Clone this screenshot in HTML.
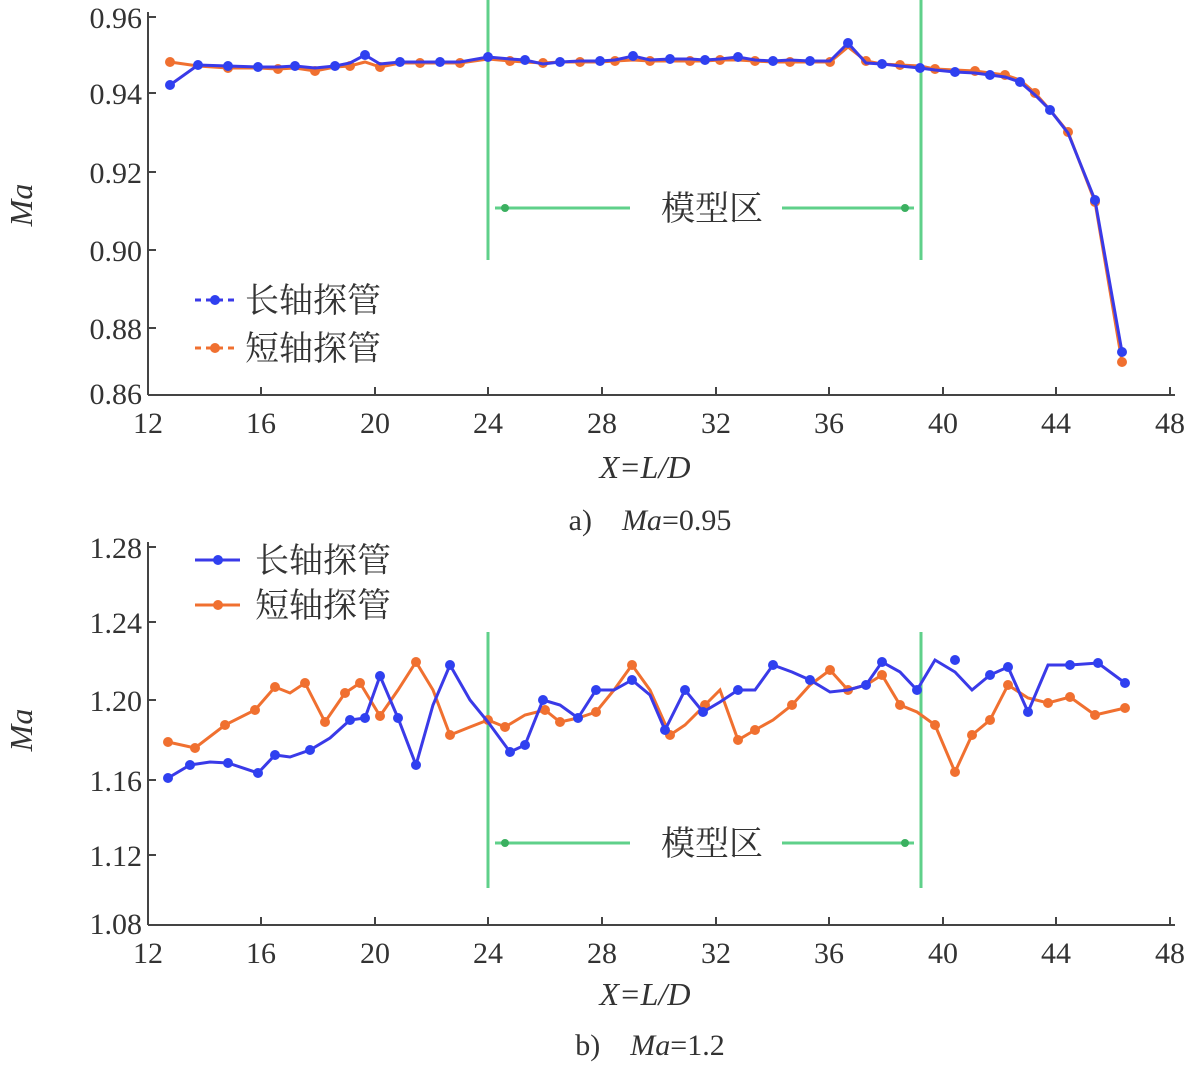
<!DOCTYPE html>
<html><head><meta charset="utf-8"><style>
html,body{margin:0;padding:0;background:#fff;}
svg{display:block;}
text{font-family:"Liberation Serif","Noto Serif CJK SC",serif;fill:#333;}
</style></head><body>
<svg width="1200" height="1071" viewBox="0 0 1200 1071" xmlns="http://www.w3.org/2000/svg">
<!-- Chart a -->
<g stroke="#444" stroke-width="2" fill="none">
<line x1="148" y1="12" x2="148" y2="395"/>
<line x1="148" y1="395" x2="1175" y2="395"/>
</g>
<g stroke="#444" stroke-width="2">
<line x1="148" y1="17" x2="156" y2="17"/><line x1="148" y1="93" x2="156" y2="93"/><line x1="148" y1="172" x2="156" y2="172"/><line x1="148" y1="250" x2="156" y2="250"/><line x1="148" y1="328" x2="156" y2="328"/>
<line x1="261" y1="395" x2="261" y2="387"/><line x1="375" y1="395" x2="375" y2="387"/><line x1="488" y1="395" x2="488" y2="387"/><line x1="602" y1="395" x2="602" y2="387"/><line x1="716" y1="395" x2="716" y2="387"/><line x1="829" y1="395" x2="829" y2="387"/><line x1="943" y1="395" x2="943" y2="387"/><line x1="1056" y1="395" x2="1056" y2="387"/><line x1="1170" y1="395" x2="1170" y2="387"/>
</g>
<g font-size="30" text-anchor="end">
<text x="142" y="28">0.96</text><text x="142" y="104">0.94</text><text x="142" y="183">0.92</text><text x="142" y="261">0.90</text><text x="142" y="339">0.88</text><text x="142" y="404">0.86</text>
</g>
<g font-size="30" text-anchor="middle">
<text x="148" y="433">12</text><text x="261" y="433">16</text><text x="375" y="433">20</text><text x="488" y="433">24</text><text x="602" y="433">28</text><text x="716" y="433">32</text><text x="829" y="433">36</text><text x="943" y="433">40</text><text x="1056" y="433">44</text><text x="1170" y="433">48</text>
</g>
<text x="645" y="478" font-size="32" font-style="italic" text-anchor="middle">X=L/D</text>
<text x="650" y="530" font-size="30" text-anchor="middle">a)&#160;&#160;&#160;&#160;<tspan font-style="italic">Ma</tspan>=0.95</text>
<text transform="translate(32,205) rotate(-90)" font-size="32" font-style="italic" text-anchor="middle">Ma</text>
<g stroke="#5fd08a" stroke-width="3">
<line x1="488" y1="0" x2="488" y2="260"/><line x1="921" y1="0" x2="921" y2="260"/>
<line x1="495" y1="208" x2="630" y2="208"/><line x1="782" y1="208" x2="914" y2="208"/>
</g>
<circle cx="505" cy="208" r="4" fill="#3bb060"/><circle cx="905" cy="208" r="4" fill="#3bb060"/>
<text x="712" y="220" font-size="34" text-anchor="middle">模型区</text>
<polyline fill="none" stroke="#f07030" stroke-width="3" points="170,62 198,66 228,68 258,68 278,69 295,68 315,71 335,67 350,66 365,62 380,67 400,63 420,63 440,63 460,63 488,59 510,61 525,62 543,63 560,62 580,62 600,62 615,61 633,60 650,61 670,61 690,61 705,61 720,60 738,60 755,61 773,62 790,62 810,62 830,62 848,47 866,61 882,64 900,65 920,66 935,69 955,70 975,71 990,73 1005,75 1020,80 1035,93 1050,110 1068,132 1095,202 1122,362"/>
<g fill="#f07030">
<circle cx="170" cy="62" r="5"/><circle cx="228" cy="68" r="5"/><circle cx="278" cy="69" r="5"/><circle cx="315" cy="71" r="5"/><circle cx="350" cy="66" r="5"/><circle cx="380" cy="67" r="5"/><circle cx="420" cy="63" r="5"/><circle cx="460" cy="63" r="5"/><circle cx="510" cy="61" r="5"/><circle cx="543" cy="63" r="5"/><circle cx="580" cy="62" r="5"/><circle cx="615" cy="61" r="5"/><circle cx="650" cy="61" r="5"/><circle cx="690" cy="61" r="5"/><circle cx="720" cy="60" r="5"/><circle cx="755" cy="61" r="5"/><circle cx="790" cy="62" r="5"/><circle cx="830" cy="62" r="5"/><circle cx="866" cy="61" r="5"/><circle cx="900" cy="65" r="5"/><circle cx="935" cy="69" r="5"/><circle cx="975" cy="71" r="5"/><circle cx="1005" cy="75" r="5"/><circle cx="1035" cy="93" r="5"/><circle cx="1068" cy="132" r="5"/><circle cx="1095" cy="202" r="5"/><circle cx="1122" cy="362" r="5"/>
</g>
<polyline fill="none" stroke="#3a3ae8" stroke-width="3" points="170,85 198,65 228,66 258,67 278,67 295,66 315,68 335,66 350,63 365,55 380,64 400,62 420,62 440,62 460,62 488,57 510,59 525,60 543,64 560,62 580,61 600,61 615,60 633,56 650,60 670,59 690,59 705,60 720,59 738,57 755,60 773,61 790,60 810,61 830,61 848,43 866,63 882,64 900,66 920,68 935,70 955,72 975,73 990,75 1005,77 1020,82 1035,95 1050,110 1068,133 1095,200 1122,352"/>
<g fill="#2f40f0">
<circle cx="170" cy="85" r="5"/><circle cx="198" cy="65" r="5"/><circle cx="228" cy="66" r="5"/><circle cx="258" cy="67" r="5"/><circle cx="295" cy="66" r="5"/><circle cx="335" cy="66" r="5"/><circle cx="365" cy="55" r="5"/><circle cx="400" cy="62" r="5"/><circle cx="440" cy="62" r="5"/><circle cx="488" cy="57" r="5"/><circle cx="525" cy="60" r="5"/><circle cx="560" cy="62" r="5"/><circle cx="600" cy="61" r="5"/><circle cx="633" cy="56" r="5"/><circle cx="670" cy="59" r="5"/><circle cx="705" cy="60" r="5"/><circle cx="738" cy="57" r="5"/><circle cx="773" cy="61" r="5"/><circle cx="810" cy="61" r="5"/><circle cx="848" cy="43" r="5"/><circle cx="882" cy="64" r="5"/><circle cx="920" cy="68" r="5"/><circle cx="955" cy="72" r="5"/><circle cx="990" cy="75" r="5"/><circle cx="1020" cy="82" r="5"/><circle cx="1050" cy="110" r="5"/><circle cx="1095" cy="200" r="5"/><circle cx="1122" cy="352" r="5"/>
</g>
<g stroke-width="3" stroke-dasharray="6,5">
<line x1="195" y1="300" x2="235" y2="300" stroke="#3a3ae8"/><line x1="195" y1="348" x2="235" y2="348" stroke="#f07030"/>
</g>
<circle cx="215" cy="300" r="5" fill="#2f40f0"/><circle cx="215" cy="348" r="5" fill="#f07030"/>
<text x="245" y="312" font-size="34">长轴探管</text>
<text x="245" y="360" font-size="34">短轴探管</text>

<!-- Chart b -->
<g stroke="#444" stroke-width="2" fill="none">
<line x1="148" y1="542" x2="148" y2="925"/>
<line x1="148" y1="925" x2="1175" y2="925"/>
</g>
<g stroke="#444" stroke-width="2">
<line x1="148" y1="547" x2="156" y2="547"/><line x1="148" y1="622" x2="156" y2="622"/><line x1="148" y1="700" x2="156" y2="700"/><line x1="148" y1="780" x2="156" y2="780"/><line x1="148" y1="855" x2="156" y2="855"/>
<line x1="261" y1="925" x2="261" y2="917"/><line x1="375" y1="925" x2="375" y2="917"/><line x1="488" y1="925" x2="488" y2="917"/><line x1="602" y1="925" x2="602" y2="917"/><line x1="716" y1="925" x2="716" y2="917"/><line x1="829" y1="925" x2="829" y2="917"/><line x1="943" y1="925" x2="943" y2="917"/><line x1="1056" y1="925" x2="1056" y2="917"/><line x1="1170" y1="925" x2="1170" y2="917"/>
</g>
<g font-size="30" text-anchor="end">
<text x="142" y="558">1.28</text><text x="142" y="633">1.24</text><text x="142" y="711">1.20</text><text x="142" y="791">1.16</text><text x="142" y="866">1.12</text><text x="142" y="934">1.08</text>
</g>
<g font-size="30" text-anchor="middle">
<text x="148" y="963">12</text><text x="261" y="963">16</text><text x="375" y="963">20</text><text x="488" y="963">24</text><text x="602" y="963">28</text><text x="716" y="963">32</text><text x="829" y="963">36</text><text x="943" y="963">40</text><text x="1056" y="963">44</text><text x="1170" y="963">48</text>
</g>
<text x="645" y="1005" font-size="32" font-style="italic" text-anchor="middle">X=L/D</text>
<text x="650" y="1055" font-size="30" text-anchor="middle">b)&#160;&#160;&#160;&#160;<tspan font-style="italic">Ma</tspan>=1.2</text>
<text transform="translate(32,730) rotate(-90)" font-size="32" font-style="italic" text-anchor="middle">Ma</text>
<g stroke="#5fd08a" stroke-width="3">
<line x1="488" y1="632" x2="488" y2="888"/><line x1="921" y1="632" x2="921" y2="888"/>
<line x1="495" y1="843" x2="630" y2="843"/><line x1="782" y1="843" x2="914" y2="843"/>
</g>
<circle cx="505" cy="843" r="4" fill="#3bb060"/><circle cx="905" cy="843" r="4" fill="#3bb060"/>
<text x="712" y="855" font-size="34" text-anchor="middle">模型区</text>
<polyline fill="none" stroke="#f07030" stroke-width="3" points="168,742 195,748 225,725 255,710 275,687 290,693 305,683 325,722 345,693 360,683 380,716 398,690 416,662 433,690 450,735 470,727 488,720 505,727 525,715 545,710 560,722 578,718 596,712 614,690 632,665 650,690 670,735 685,725 705,705 720,690 738,740 755,730 773,720 792,705 810,685 830,670 848,690 866,685 882,675 900,705 917,712 935,725 955,772 972,735 990,720 1008,685 1028,698 1048,703 1070,697 1095,715 1125,708"/>
<g fill="#f07030">
<circle cx="168" cy="742" r="5"/><circle cx="195" cy="748" r="5"/><circle cx="225" cy="725" r="5"/><circle cx="255" cy="710" r="5"/><circle cx="275" cy="687" r="5"/><circle cx="305" cy="683" r="5"/><circle cx="325" cy="722" r="5"/><circle cx="345" cy="693" r="5"/><circle cx="360" cy="683" r="5"/><circle cx="380" cy="716" r="5"/><circle cx="416" cy="662" r="5"/><circle cx="450" cy="735" r="5"/><circle cx="488" cy="720" r="5"/><circle cx="505" cy="727" r="5"/><circle cx="545" cy="710" r="5"/><circle cx="560" cy="722" r="5"/><circle cx="596" cy="712" r="5"/><circle cx="632" cy="665" r="5"/><circle cx="670" cy="735" r="5"/><circle cx="705" cy="705" r="5"/><circle cx="738" cy="740" r="5"/><circle cx="755" cy="730" r="5"/><circle cx="792" cy="705" r="5"/><circle cx="830" cy="670" r="5"/><circle cx="848" cy="690" r="5"/><circle cx="882" cy="675" r="5"/><circle cx="900" cy="705" r="5"/><circle cx="935" cy="725" r="5"/><circle cx="955" cy="772" r="5"/><circle cx="972" cy="735" r="5"/><circle cx="990" cy="720" r="5"/><circle cx="1008" cy="685" r="5"/><circle cx="1048" cy="703" r="5"/><circle cx="1070" cy="697" r="5"/><circle cx="1095" cy="715" r="5"/><circle cx="1125" cy="708" r="5"/>
</g>
<polyline fill="none" stroke="#3a3ae8" stroke-width="3" points="168,778 190,765 210,762 228,763 258,773 275,755 290,757 310,750 330,738 350,720 365,718 380,676 398,718 416,765 433,705 450,665 470,700 488,722 510,752 525,745 543,700 560,705 578,718 596,690 614,690 632,680 650,695 665,730 685,690 703,712 720,702 738,690 755,690 773,665 792,672 810,680 830,692 848,690 866,685 882,662 900,672 917,690 935,660 955,672 972,690 990,675 1008,667 1028,712 1048,665 1070,665 1098,663 1125,683"/>
<g fill="#2f40f0">
<circle cx="168" cy="778" r="5"/><circle cx="190" cy="765" r="5"/><circle cx="228" cy="763" r="5"/><circle cx="258" cy="773" r="5"/><circle cx="275" cy="755" r="5"/><circle cx="310" cy="750" r="5"/><circle cx="350" cy="720" r="5"/><circle cx="365" cy="718" r="5"/><circle cx="380" cy="676" r="5"/><circle cx="398" cy="718" r="5"/><circle cx="416" cy="765" r="5"/><circle cx="450" cy="665" r="5"/><circle cx="510" cy="752" r="5"/><circle cx="525" cy="745" r="5"/><circle cx="543" cy="700" r="5"/><circle cx="578" cy="718" r="5"/><circle cx="596" cy="690" r="5"/><circle cx="632" cy="680" r="5"/><circle cx="665" cy="730" r="5"/><circle cx="685" cy="690" r="5"/><circle cx="703" cy="712" r="5"/><circle cx="738" cy="690" r="5"/><circle cx="773" cy="665" r="5"/><circle cx="810" cy="680" r="5"/><circle cx="866" cy="685" r="5"/><circle cx="882" cy="662" r="5"/><circle cx="917" cy="690" r="5"/><circle cx="955" cy="660" r="5"/><circle cx="990" cy="675" r="5"/><circle cx="1008" cy="667" r="5"/><circle cx="1028" cy="712" r="5"/><circle cx="1070" cy="665" r="5"/><circle cx="1098" cy="663" r="5"/><circle cx="1125" cy="683" r="5"/>
</g>
<g stroke-width="3">
<line x1="195" y1="560" x2="240" y2="560" stroke="#3a3ae8"/><line x1="195" y1="605" x2="240" y2="605" stroke="#f07030"/>
</g>
<circle cx="218" cy="560" r="5" fill="#2f40f0"/><circle cx="218" cy="605" r="5" fill="#f07030"/>
<text x="255" y="572" font-size="34">长轴探管</text>
<text x="255" y="617" font-size="34">短轴探管</text>
</svg>
</body></html>
